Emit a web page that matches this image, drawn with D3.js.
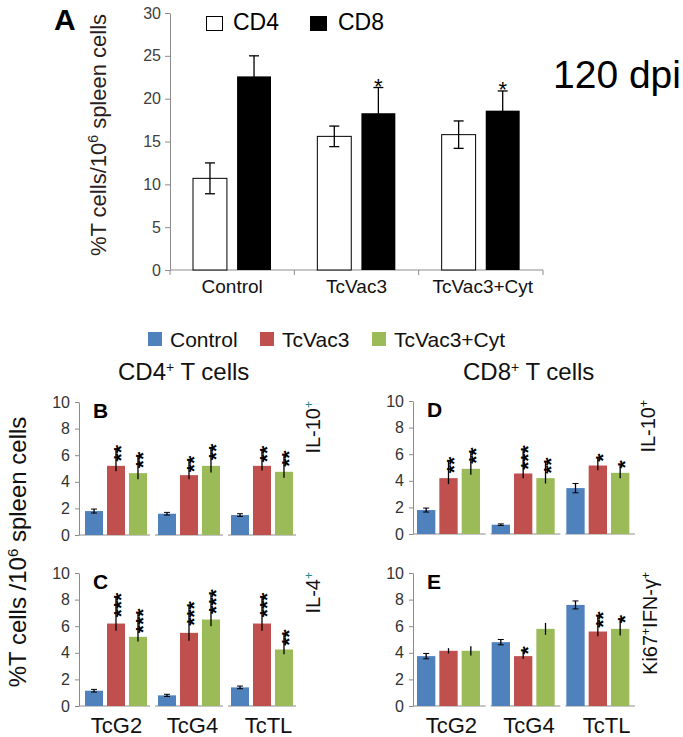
<!DOCTYPE html>
<html><head><meta charset="utf-8">
<script src="https://cdn.jsdelivr.net/npm/d3@7"></script>
<style>
body{margin:0;background:#fff}
svg{display:block}
text{font-family:"Liberation Sans",Arial,sans-serif}
</style>
</head><body><svg id="c" width="683" height="737"></svg>
<script>
// ---------- Panel A data ----------
const groupsA = ["Control", "TcVac3", "TcVac3+Cyt"];
const seriesA = ["CD4", "CD8"];
const cd4Values = [10.7, 15.6, 15.8];
const cd4Errors = [1.8, 1.2, 1.6];
const cd8Values = [22.6, 18.3, 18.6];
const cd8Errors = [2.4, 3.0, 2.3];
const cd8Stars = ["", "*", "*"];
const ticksA = [0, 5, 10, 15, 20, 25, 30];

// ---------- Panels B-E data ----------
const strains = ["TcG2", "TcG4", "TcTL"];
const treatments = ["Control", "TcVac3", "TcVac3+Cyt"];
const treatmentColors = ["#4F81BD", "#C0504D", "#9BBB59"];
const ticksSmall = [0, 2, 4, 6, 8, 10];

// B: CD4+ IL-10+
const bControl = [1.8, 1.6, 1.5];
const bControlErr = [0.15, 0.1, 0.1];
const bVac = [5.2, 4.5, 5.2];
const bVacErr = [0.4, 0.3, 0.35];
const bCyt = [4.65, 5.2, 4.75];
const bCytErr = [0.45, 0.5, 0.45];
const bVacStars = ["**", "**", "**"];
const bCytStars = ["**", "**", "**"];

// C: CD4+ IL-4+
const cControl = [1.15, 0.8, 1.4];
const cControlErr = [0.1, 0.08, 0.1];
const cVac = [6.2, 5.5, 6.2];
const cVacErr = [0.55, 0.6, 0.55];
const cCyt = [5.2, 6.5, 4.25];
const cCytErr = [0.35, 0.5, 0.35];
const cVacStars = ["***", "***", "***"];
const cCytStars = ["***", "***", "**"];

// D: CD8+ IL-10+
const dControl = [1.8, 0.7, 3.45];
const dControlErr = [0.15, 0.06, 0.35];
const dVac = [4.2, 4.55, 5.15];
const dVacErr = [0.45, 0.35, 0.35];
const dCyt = [4.9, 4.2, 4.6];
const dCytErr = [0.45, 0.4, 0.4];
const dVacStars = ["**", "***", "*"];
const dCytStars = ["**", "**", "*"];

// E: CD8+ Ki67+IFN-γ+
const eControl = [3.75, 4.8, 7.6];
const eControlErr = [0.2, 0.2, 0.3];
const eVac = [4.15, 3.75, 5.6];
const eVacErr = [0.2, 0.2, 0.35];
const eCyt = [4.15, 5.8, 5.8];
const eCytErr = [0.35, 0.45, 0.5];
const eVacStars = ["", "*", "**"];
const eCytStars = ["", "", "*"];

const svg = d3.select("#c");
svg.append("rect").attr("width", 683).attr("height", 737).attr("fill", "#fff");

const AXIS = "#8c8c8c";

// ================= PANEL A =================
(function () {
  const x = d3.scaleBand().domain(groupsA).range([170, 543]);
  const xi = d3.scaleBand().domain(seriesA).range([23, 101]).paddingInner(0.23);
  const y = d3.scaleLinear().domain([0, 30]).range([270, 13]);
  const g = svg.append("g");

  const yAx = g.append("g").attr("transform", "translate(170,0)")
    .call(d3.axisLeft(y).tickValues(ticksA).tickSize(5).tickSizeOuter(0).tickPadding(4));
  yAx.select(".domain").attr("stroke", AXIS);
  yAx.selectAll(".tick line").attr("stroke", AXIS);
  yAx.selectAll(".tick text").attr("font-family", "'Liberation Serif','Times New Roman',serif")
    .attr("font-size", 16).attr("fill", "#404040");

  g.append("line").attr("x1", 170).attr("x2", x.range()[1]).attr("y1", y(0)).attr("y2", y(0)).attr("stroke", AXIS);
  const bounds = groupsA.map(d => x(d)).concat([x.range()[1]]);
  g.selectAll(".bt").data(bounds).join("line")
    .attr("x1", d => d).attr("x2", d => d).attr("y1", y(0)).attr("y2", y(0) + 5).attr("stroke", AXIS);

  g.selectAll(".cat").data(groupsA).join("text")
    .attr("x", d => x(d) + x.bandwidth() / 2 + (d === "TcVac3+Cyt" ? 2 : 0))
    .attr("y", 293).attr("text-anchor", "middle").attr("font-size", 19).attr("fill", "#111")
    .text(d => d);

  const rows = groupsA.map((d, i) => ({ g: d, v4: cd4Values[i], e4: cd4Errors[i], v8: cd8Values[i], e8: cd8Errors[i], s: cd8Stars[i] }));

  rows.forEach(r => {
    const x4 = x(r.g) + xi("CD4"), x8 = x(r.g) + xi("CD8"), w = xi.bandwidth();
    g.append("rect").attr("x", x4).attr("y", y(r.v4)).attr("width", w).attr("height", y(0) - y(r.v4))
      .attr("fill", "#fff").attr("stroke", "#000").attr("stroke-width", 1);
    g.append("rect").attr("x", x8).attr("y", y(r.v8)).attr("width", w).attr("height", y(0) - y(r.v8))
      .attr("fill", "#000");
    [[x4 + w / 2, r.v4, r.e4], [x8 + w / 2, r.v8, r.e8]].forEach(([cx, v, e]) => {
      g.append("line").attr("x1", cx).attr("x2", cx).attr("y1", y(v - e)).attr("y2", y(v + e)).attr("stroke", "#000").attr("stroke-width", 1.3);
      g.append("line").attr("x1", cx - 5).attr("x2", cx + 5).attr("y1", y(v + e)).attr("y2", y(v + e)).attr("stroke", "#000").attr("stroke-width", 1.3);
      g.append("line").attr("x1", cx - 5).attr("x2", cx + 5).attr("y1", y(v - e)).attr("y2", y(v - e)).attr("stroke", "#000").attr("stroke-width", 1.3);
    });
    if (r.s) {
      g.append("text").attr("x", x8 + w / 2).attr("y", y(r.v8 + r.e8) + 6).attr("text-anchor", "middle")
        .attr("font-size", 22).attr("fill", "#000").text(r.s);
    }
  });

  const leg = g.append("g");
  [["CD4", "#fff", 206, 233], ["CD8", "#000", 310, 338]].forEach(([t, f, bx, tx]) => {
    leg.append("rect").attr("x", bx + 0.5).attr("y", 16.5).attr("width", 16).attr("height", 14)
      .attr("fill", f).attr("stroke", "#000").attr("stroke-width", 1);
    leg.append("text").attr("x", tx).attr("y", 30).attr("font-size", 23).attr("fill", "#000").text(t);
  });

  g.append("text").attr("x", 54).attr("y", 30).attr("font-size", 30).attr("font-weight", "bold").text("A");
  const yt = g.append("text").attr("transform", "translate(106,135) rotate(-90)").attr("text-anchor", "middle")
    .attr("font-size", 22).attr("fill", "#2a1e1e");
  yt.append("tspan").text("%T cells/10");
  yt.append("tspan").attr("baseline-shift", "super").attr("font-size", 14).text("6");
  yt.append("tspan").text(" spleen cells");
  g.append("text").attr("x", 553).attr("y", 88).attr("font-size", 39).attr("fill", "#000").text("120 dpi");
})();

// ================= Legend + titles =================
(function () {
  const lx = [148, 260, 372];
  treatments.forEach((t, i) => {
    svg.append("rect").attr("x", lx[i]).attr("y", 332).attr("width", 14).attr("height", 14).attr("fill", treatmentColors[i]);
    svg.append("text").attr("x", lx[i] + 22).attr("y", 347).attr("font-size", 21).attr("fill", "#111").text(t);
  });
  [["CD4", 118], ["CD8", 463]].forEach(([c, x]) => {
    const t = svg.append("text").attr("x", x).attr("y", 380).attr("font-size", 24).attr("fill", "#111");
    t.append("tspan").text(c);
    t.append("tspan").attr("baseline-shift", "super").attr("font-size", 14).text("+");
    t.append("tspan").text(" T cells");
  });
  const yt = svg.append("text").attr("transform", "translate(26,552) rotate(-90)").attr("text-anchor", "middle")
    .attr("font-size", 24).attr("fill", "#111");
  yt.append("tspan").text("%T cells /10");
  yt.append("tspan").attr("baseline-shift", "super").attr("font-size", 15).text("6");
  yt.append("tspan").text(" spleen cells");
})();

// ================= Small panels =================
function smallPanel(cfg) {
  const g = svg.append("g");
  const y = d3.scaleLinear().domain([0, 10]).range([cfg.zeroY, cfg.zeroY - 133]);
  const x = d3.scaleBand().domain(strains).range([cfg.left, cfg.right]);
  const xi = d3.scaleBand().domain(treatments).range(cfg.inner).paddingInner(0.18);

  const yAx = g.append("g").attr("transform", `translate(${cfg.left},0)`)
    .call(d3.axisLeft(y).tickValues(ticksSmall).tickSize(4).tickSizeOuter(0).tickPadding(5));
  yAx.select(".domain").attr("stroke", AXIS);
  yAx.selectAll(".tick line").attr("stroke", AXIS);
  yAx.selectAll(".tick text").attr("font-size", 16).attr("fill", "#333")
    .attr("font-family", "'Liberation Sans',Arial,sans-serif");

  strains.forEach((s, i) => {
    const x0 = i === 0 ? cfg.left : x(s) + 3, x1 = x(s) + x.bandwidth() - 2;
    g.append("line").attr("x1", x0).attr("x2", x1).attr("y1", y(0)).attr("y2", y(0)).attr("stroke", AXIS);
  });

  const vals = [cfg.ctrl, cfg.vac, cfg.cyt], errs = [cfg.ctrlErr, cfg.vacErr, cfg.cytErr], stars = [null, cfg.vacStars, cfg.cytStars];
  const fs = 21, adv = 0.389 * fs;
  strains.forEach((s, si) => {
    treatments.forEach((t, ti) => {
      const v = vals[ti][si], e = errs[ti][si];
      const bx = x(s) + xi(t), w = xi.bandwidth(), cx = bx + w / 2;
      g.append("rect").attr("x", bx).attr("y", y(v)).attr("width", w).attr("height", y(0) - y(v)).attr("fill", treatmentColors[ti]);
      const st = stars[ti] ? stars[ti][si] : "";
      const top = y(v + e);
      const bottom = top + 1;
      const lineTop = st ? bottom - (st.length - 0.5) * adv : top;
      g.append("line").attr("x1", cx).attr("x2", cx).attr("y1", y(v - e)).attr("y2", lineTop).attr("stroke", "#000").attr("stroke-width", 1.3);
      if (ti === 0) {
        g.append("line").attr("x1", cx - 3).attr("x2", cx + 3).attr("y1", y(v + e)).attr("y2", y(v + e)).attr("stroke", "#000").attr("stroke-width", 1);
        g.append("line").attr("x1", cx - 3).attr("x2", cx + 3).attr("y1", y(v - e)).attr("y2", y(v - e)).attr("stroke", "#000").attr("stroke-width", 1);
      }
      if (st) {
        g.append("text").attr("transform", `translate(${cx + 0.575 * fs},${bottom}) rotate(-90)`)
          .attr("font-size", fs).attr("font-weight", "bold").attr("fill", "#000").text(st);
      }
    });
  });

  g.append("text").attr("x", cfg.left + 14).attr("y", y(10) + 16).attr("font-size", 21).attr("font-weight", "bold").text(cfg.letter);

  const sl = g.append("text").attr("transform", `translate(${cfg.sideX},${y(10) - 1}) rotate(-90)`)
    .attr("text-anchor", "end").attr("font-size", 20).attr("fill", "#111");
  cfg.side.forEach(([txt, sup]) => {
    const ts = sl.append("tspan").text(txt);
    if (sup) ts.attr("baseline-shift", "super").attr("font-size", 12).attr("fill", sup === 2 ? "#2a8a8a" : "#111");
  });

  if (cfg.cats) {
    g.selectAll(".cat").data(strains).join("text")
      .attr("x", (d, i) => x(d) + x.bandwidth() / 2 + 1 + i * 3)
      .attr("y", 733).attr("text-anchor", "middle").attr("font-size", 22).attr("fill", "#111").text(d => d);
  }
}

smallPanel({ left: 79, right: 298, inner: [6, 68], zeroY: 535, letter: "B", sideX: 320,
  ctrl: bControl, ctrlErr: bControlErr, vac: bVac, vacErr: bVacErr, cyt: bCyt, cytErr: bCytErr,
  vacStars: bVacStars, cytStars: bCytStars, side: [["IL-10"], ["+", 2]], cats: false });
smallPanel({ left: 79, right: 298, inner: [6, 68], zeroY: 706, letter: "C", sideX: 320,
  ctrl: cControl, ctrlErr: cControlErr, vac: cVac, vacErr: cVacErr, cyt: cCyt, cytErr: cCytErr,
  vacStars: cVacStars, cytStars: cCytStars, side: [["IL-4"], ["+", 2]], cats: true });
smallPanel({ left: 413, right: 637, inner: [4, 67], zeroY: 534, letter: "D", sideX: 655,
  ctrl: dControl, ctrlErr: dControlErr, vac: dVac, vacErr: dVacErr, cyt: dCyt, cytErr: dCytErr,
  vacStars: dVacStars, cytStars: dCytStars, side: [["IL-10"], ["+", 1]], cats: false });
smallPanel({ left: 413, right: 637, inner: [4, 67], zeroY: 706, letter: "E", sideX: 657,
  ctrl: eControl, ctrlErr: eControlErr, vac: eVac, vacErr: eVacErr, cyt: eCyt, cytErr: eCytErr,
  vacStars: eVacStars, cytStars: eCytStars, side: [["Ki67"], ["+", 1], ["IFN-γ"], ["+", 1]], cats: true });
</script>
</body></html>
